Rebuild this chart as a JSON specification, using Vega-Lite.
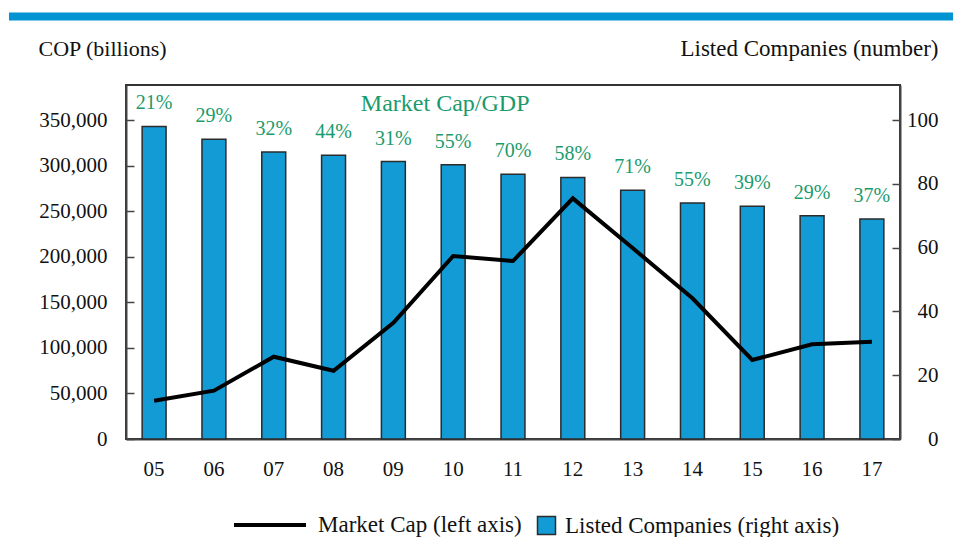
{
  "$schema": "https://vega.github.io/schema/vega-lite/v6.json",
  "autosize": "none",
  "padding": {"left": 126, "top": 85, "right": 53, "bottom": 98},
  "width": 774,
  "height": 354,
  "background": "white",
  "data": {"values": [
    {"year": "05", "companies": 98, "marketcap": 42000, "pct": "21%"},
    {"year": "06", "companies": 94, "marketcap": 53000, "pct": "29%"},
    {"year": "07", "companies": 90, "marketcap": 90300, "pct": "32%"},
    {"year": "08", "companies": 89, "marketcap": 74900, "pct": "44%"},
    {"year": "09", "companies": 87, "marketcap": 127600, "pct": "31%"},
    {"year": "10", "companies": 86, "marketcap": 200800, "pct": "55%"},
    {"year": "11", "companies": 83, "marketcap": 195300, "pct": "70%"},
    {"year": "12", "companies": 82, "marketcap": 264100, "pct": "58%"},
    {"year": "13", "companies": 78, "marketcap": 209600, "pct": "71%"},
    {"year": "14", "companies": 74, "marketcap": 154400, "pct": "55%"},
    {"year": "15", "companies": 73, "marketcap": 86700, "pct": "39%"},
    {"year": "16", "companies": 70, "marketcap": 103900, "pct": "29%"},
    {"year": "17", "companies": 69, "marketcap": 106800, "pct": "37%"}
  ]},
  "config": {
    "font": "Liberation Serif",
    "view": {"stroke": "#333333", "strokeWidth": 2},
    "axis": {
      "grid": false,
      "labelFontSize": 21,
      "labelColor": "#111111",
      "titleFontSize": 22,
      "titleFontWeight": "normal",
      "titleColor": "#111111",
      "domainColor": "#444444",
      "domainWidth": 2,
      "tickColor": "#444444",
      "tickWidth": 1.5
    },
    "legend": {"padding": 0, "labelFontSize": 23, "labelColor": "#111111", "labelLimit": 400}
  },
  "layer": [
    {
      "layer": [
        {
          "layer": [
            {
              "mark": {"type": "bar", "stroke": "#2b2b2b", "strokeWidth": 1.5},
              "encoding": {
                "x": {
                  "field": "year", "type": "ordinal",
                  "scale": {"paddingInner": 0.6, "paddingOuter": 0.27},
                  "axis": {"title": null, "labelAngle": 0, "ticks": false, "labelPadding": 30, "labelBaseline": "middle"}
                },
                "y": {
                  "field": "companies", "type": "quantitative",
                  "scale": {"domain": [0, 111], "nice": false},
                  "axis": {
                    "orient": "right",
                    "values": [0, 20, 40, 60, 80, 100],
                    "tickSize": -8,
                    "labelPadding": 46,
                    "labelAlign": "right",
                    "title": "Listed Companies (number)",
                    "titleFontSize": 23,
                    "titleAngle": 0,
                    "titleAlign": "right",
                    "titleBaseline": "middle",
                    "titleX": 38,
                    "titleY": -37
                  }
                },
                "fill": {
                  "datum": "Listed Companies (right axis)", "type": "nominal",
                  "scale": {"range": ["#139bd6"]},
                  "legend": {
                    "title": null, "orient": "none", "legendX": 409, "legendY": 429,
                    "symbolType": "square", "symbolSize": 324,
                    "symbolStrokeColor": "#2b2b2b", "symbolStrokeWidth": 1.5,
                    "symbolOpacity": 1, "labelOffset": 7
                  }
                }
              }
            },
            {
              "mark": {"type": "text", "baseline": "middle", "dy": -23, "fontSize": 20, "color": "#1a9b6c"},
              "encoding": {
                "x": {"field": "year", "type": "ordinal"},
                "y": {"field": "companies", "type": "quantitative"},
                "text": {"field": "pct", "type": "nominal"}
              }
            },
            {
              "data": {"values": [{"label": "Market Cap/GDP"}]},
              "mark": {"type": "text", "baseline": "middle", "dx": -8, "fontSize": 24, "color": "#1a9b6c"},
              "encoding": {
                "x": {"datum": "10", "type": "ordinal"},
                "y": {"datum": 105, "type": "quantitative"},
                "text": {"field": "label", "type": "nominal"}
              }
            }
          ]
        },
        {
          "mark": {"type": "line", "strokeWidth": 4, "strokeJoin": "miter"},
          "encoding": {
            "x": {"field": "year", "type": "ordinal"},
            "y": {
              "field": "marketcap", "type": "quantitative",
              "scale": {"domain": [0, 388500], "nice": false},
              "axis": {
                "orient": "left",
                "values": [0, 50000, 100000, 150000, 200000, 250000, 300000, 350000],
                "labelExpr": "format(datum.value, ',')",
                "tickSize": -8,
                "labelPadding": 27,
                "title": "COP (billions)",
                "titleAngle": 0,
                "titleAlign": "left",
                "titleBaseline": "middle",
                "titleX": -88,
                "titleY": -37
              }
            },
            "stroke": {
              "datum": "Market Cap (left axis)", "type": "nominal",
              "scale": {"range": ["#000000"]},
              "legend": {
                "title": null, "orient": "none", "legendX": 106, "legendY": 402,
                "symbolType": "stroke", "symbolSize": 5184, "symbolStrokeWidth": 4,
                "labelOffset": 10
              }
            }
          }
        }
      ],
      "resolve": {"scale": {"y": "independent"}}
    },
    {
      "data": {"values": [{"band": "top"}]},
      "mark": {"type": "rect", "color": "#0094d2"},
      "encoding": {
        "x": {"datum": -0.1512, "type": "quantitative", "scale": {"domain": [0, 1], "nice": false, "zero": false}, "axis": null},
        "x2": {"datum": 1.0685},
        "y": {"datum": 1.2048, "type": "quantitative", "scale": {"domain": [0, 1], "nice": false, "zero": false}, "axis": null},
        "y2": {"datum": 1.1822}
      }
    }
  ],
  "resolve": {"scale": {"x": "independent", "y": "independent"}}
}
